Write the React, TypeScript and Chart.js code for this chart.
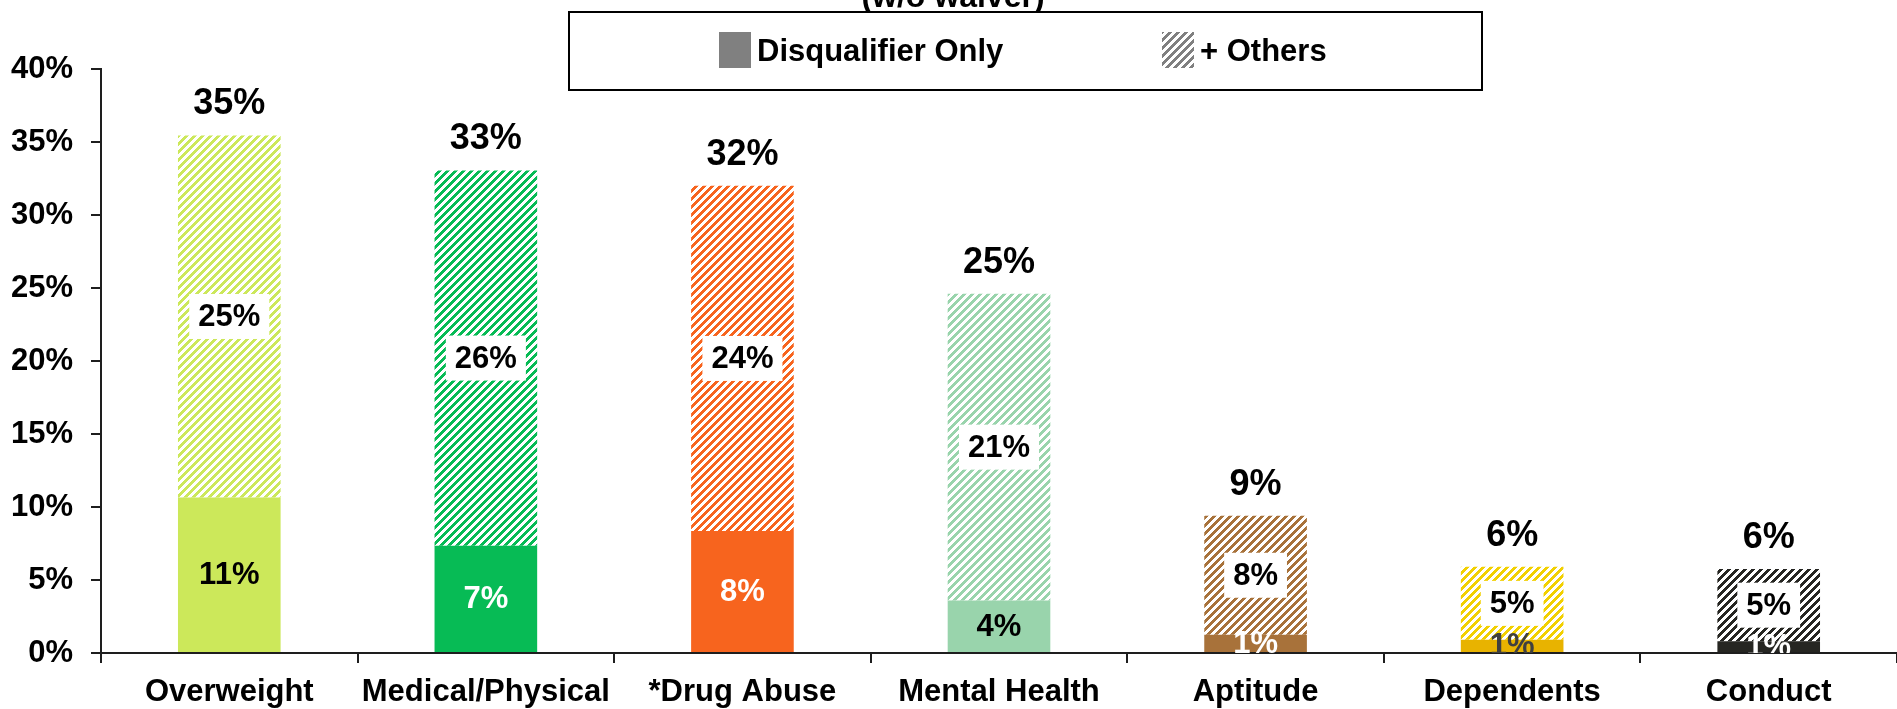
import { useEffect, useRef } from 'react';
import { Chart, registerables } from 'chart.js';

Chart.register(...registerables);

const categories = ['Overweight', 'Medical/Physical', '*Drug Abuse', 'Mental Health', 'Aptitude', 'Dependents', 'Conduct'];
const seriesNames = ['Disqualifier Only', '+ Others'];
const onlyValues = [10.65, 7.35, 8.35, 3.6, 1.25, 0.9, 0.8];
const othersValues = [24.8, 25.7, 23.65, 21.0, 8.15, 5.0, 4.95];
const yTickValues = [0, 5, 10, 15, 20, 25, 30, 35, 40];
const titleText = '(w/o waiver)';

const solidColors = ['#CCE85A', '#07BB55', '#F7641E', '#99D4AC', '#A8723A', '#E8B300', '#262622'];
const hatchColors = ['#CCE85A', '#07BB55', '#F7641E', '#99D4AC', '#A8723A', '#F2D000', '#262622'];
const solidLabelColors = ['#000000', '#FFFFFF', '#FFFFFF', '#000000', '#FFFFFF', '#404040', '#FFFFFF'];
const legendSolidColor = '#808080';
const legendHatchColor = '#808080';

const FONT_FAMILY = '"Liberation Sans", Arial, Helvetica, sans-serif';

function makeHatch(target: CanvasRenderingContext2D, color: string, band: number): CanvasPattern {
  const tile = document.createElement('canvas');
  tile.width = 8;
  tile.height = 8;
  const t = tile.getContext('2d') as CanvasRenderingContext2D;
  t.fillStyle = '#FFFFFF';
  t.fillRect(0, 0, 8, 8);
  t.fillStyle = color;
  for (let y = 0; y < 8; y++) {
    for (let x = 0; x < 8; x++) {
      if ((x + y) % 8 < band) t.fillRect(x, y, 1, 1);
    }
  }
  return target.createPattern(tile, 'repeat') as CanvasPattern;
}

export default function App() {
  const canvasRef = useRef<HTMLCanvasElement | null>(null);

  useEffect(() => {
    document.body.style.margin = '0';
    const canvas = canvasRef.current;
    if (!canvas) return;
    const ctx0 = canvas.getContext('2d') as CanvasRenderingContext2D;
    const hatchPatterns = hatchColors.map((c) => makeHatch(ctx0, c, 4));
    const legendPattern = makeHatch(ctx0, legendHatchColor, 4);

    const overlayPlugin = {
      id: 'overlay',
      afterDatasetsDraw(chart: any) {
        const ctx: CanvasRenderingContext2D = chart.ctx;
        const area = chart.chartArea;
        const m0 = chart.getDatasetMeta(0);
        const m1 = chart.getDatasetMeta(1);
        ctx.save();
        ctx.textAlign = 'center';
        ctx.textBaseline = 'middle';
        categories.forEach((_, i) => {
          const b0: any = m0.data[i];
          const b1: any = m1.data[i];
          // solid segment label
          ctx.font = `bold 31px ${FONT_FAMILY}`;
          ctx.save();
          ctx.beginPath();
          ctx.rect(area.left, area.top - 100, area.right - area.left, area.bottom - area.top + 100);
          ctx.clip();
          ctx.fillStyle = solidLabelColors[i];
          ctx.fillText(Math.round(onlyValues[i]) + '%', b0.x, (b0.y + b0.base) / 2 + 1);
          ctx.restore();
          // hatched segment label with white box
          const t = Math.round(othersValues[i]) + '%';
          const w = ctx.measureText(t).width;
          const yc = (b1.y + b1.base) / 2;
          ctx.fillStyle = '#FFFFFF';
          ctx.fillRect(b1.x - w / 2 - 9, yc - 22.5, w + 18, 45);
          ctx.fillStyle = '#000000';
          ctx.fillText(t, b1.x, yc + 1);
          // total label
          ctx.font = `bold 36px ${FONT_FAMILY}`;
          ctx.fillStyle = '#000000';
          ctx.fillText(Math.round(onlyValues[i] + othersValues[i]) + '%', b1.x, b1.y - 31);
        });
        ctx.restore();
      },
      afterDraw(chart: any) {
        const ctx: CanvasRenderingContext2D = chart.ctx;
        ctx.save();
        // title (cut off at top)
        ctx.font = `bold 32px ${FONT_FAMILY}`;
        ctx.fillStyle = '#000000';
        ctx.textAlign = 'center';
        ctx.textBaseline = 'alphabetic';
        ctx.fillText(titleText, 953, 7);
        // legend box
        ctx.fillStyle = '#FFFFFF';
        ctx.fillRect(569, 12, 913, 78);
        ctx.strokeStyle = '#000000';
        ctx.lineWidth = 2;
        ctx.strokeRect(569, 12, 913, 78);
        ctx.fillStyle = legendSolidColor;
        ctx.fillRect(719, 32, 32, 36);
        ctx.fillStyle = legendPattern;
        ctx.fillRect(1162, 32, 32, 36);
        ctx.font = `bold 31px ${FONT_FAMILY}`;
        ctx.fillStyle = '#000000';
        ctx.textAlign = 'left';
        ctx.textBaseline = 'middle';
        ctx.fillText(seriesNames[0], 757, 52);
        ctx.fillText(seriesNames[1], 1200, 52);
        ctx.restore();
      },
    };

    const chart = new Chart(canvas, {
      type: 'bar',
      data: {
        labels: categories,
        datasets: [
          {
            label: seriesNames[0],
            data: onlyValues,
            backgroundColor: solidColors,
            borderWidth: 0,
            barPercentage: 0.4,
            categoryPercentage: 1.0,
          },
          {
            label: seriesNames[1],
            data: othersValues,
            backgroundColor: hatchPatterns as any,
            borderWidth: 0,
            barPercentage: 0.4,
            categoryPercentage: 1.0,
          },
        ],
      },
      options: {
        responsive: false,
        animation: false,
        devicePixelRatio: 1,
        layout: { padding: { top: 69, left: 0, right: 0, bottom: 0 } },
        plugins: {
          legend: { display: false },
          tooltip: { enabled: false },
          title: { display: false },
        },
        scales: {
          x: {
            stacked: true,
            grid: {
              display: true,
              drawOnChartArea: false,
              drawTicks: true,
              tickLength: 10,
              color: '#1E1E1E',
              lineWidth: 2,
              offset: true,
            },
            border: { display: true, color: '#1E1E1E', width: 2 },
            ticks: {
              color: '#000000',
              font: { family: FONT_FAMILY, size: 31, weight: 'bold', lineHeight: 1.2 },
              padding: 11,
              maxRotation: 0,
              minRotation: 0,
              autoSkip: false,
            },
            afterFit: (s: any) => {
              s.height = 56;
            },
          },
          y: {
            stacked: true,
            min: 0,
            max: 40,
            afterBuildTicks: (s: any) => {
              s.ticks = yTickValues.map((v) => ({ value: v }));
            },
            grid: {
              display: true,
              drawOnChartArea: false,
              drawTicks: true,
              tickLength: 10,
              color: '#1E1E1E',
              lineWidth: 2,
            },
            border: { display: true, color: '#1E1E1E', width: 2 },
            ticks: {
              color: '#000000',
              font: { family: FONT_FAMILY, size: 31, weight: 'bold' },
              padding: 18,
              callback: (v: any) => v + '%',
            },
            afterFit: (s: any) => {
              s.width = 101;
            },
          },
        },
      } as any,
      plugins: [overlayPlugin],
    });

    return () => {
      chart.destroy();
    };
  }, []);

  return (
    <div style={{ width: 1897, height: 709, overflow: 'hidden', background: '#FFFFFF' }}>
      <canvas ref={canvasRef} width={1897} height={709} style={{ display: 'block' }} />
    </div>
  );
}
